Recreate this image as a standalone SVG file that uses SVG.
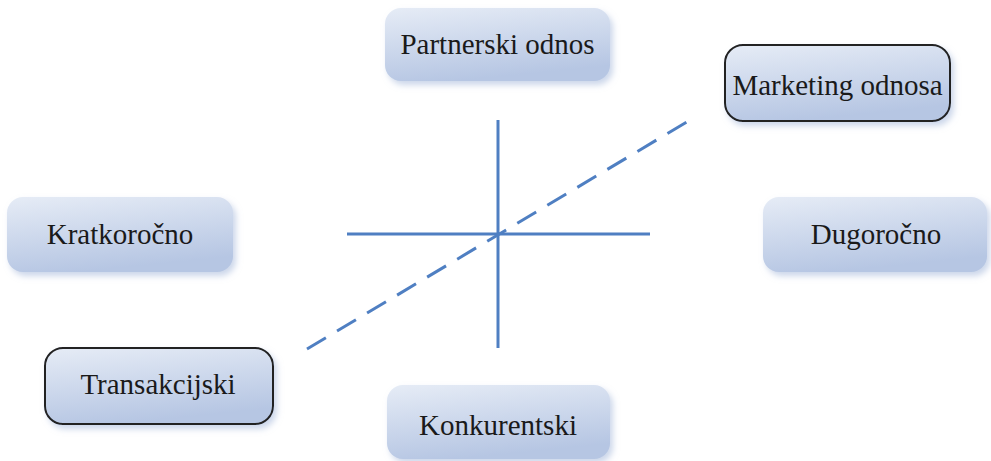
<svg xmlns="http://www.w3.org/2000/svg" width="991" height="461" viewBox="0 0 991 461">
<defs>
<linearGradient id="g" x1="0" y1="0" x2="0.3" y2="1">
<stop offset="0" stop-color="#e6ecf6"/>
<stop offset="1" stop-color="#b6c6e3"/>
</linearGradient>
<filter id="sh" x="-10%" y="-20%" width="125%" height="150%">
<feGaussianBlur in="SourceAlpha" stdDeviation="3"/>
<feOffset dx="3" dy="4" result="b"/>
<feFlood flood-color="#a9bbdc" flood-opacity="0.6"/>
<feComposite in2="b" operator="in"/>
<feMerge><feMergeNode/><feMergeNode in="SourceGraphic"/></feMerge>
</filter>
</defs>
<style>
.box{fill:url(#g);filter:url(#sh)}
.out{stroke:#222;stroke-width:2}
.t{font-family:"Liberation Serif","Times New Roman",serif;font-size:29px;fill:#1a1a1a;text-anchor:middle}
.ax{stroke:#4f7fc2;stroke-width:3;fill:none}
.dash{stroke-dasharray:22 13}
</style>
<rect width="991" height="461" fill="#fff"/>
<g id="connectors">
<line class="ax" x1="498" y1="120" x2="498" y2="348"/>
<line class="ax" x1="347" y1="234" x2="650" y2="234"/>
<line class="ax dash" x1="307" y1="349" x2="690" y2="120"/>
</g>
<g id="partnerski">
<rect class="box" x="385" y="8" width="225" height="73" rx="16"/>
<text class="t" x="497.5" y="54">Partnerski odnos</text>
</g>
<g id="marketing">
<rect class="box out" x="725" y="45" width="225" height="76" rx="18"/>
<text class="t" x="837.5" y="95">Marketing odnosa</text>
</g>
<g id="kratkorocno">
<rect class="box" x="7" y="197" width="226" height="75" rx="16"/>
<text class="t" x="120" y="244">Kratkoročno</text>
</g>
<g id="dugorocno">
<rect class="box" x="763" y="197" width="224" height="75" rx="16"/>
<text class="t" x="876" y="244">Dugoročno</text>
</g>
<g id="transakcijski">
<rect class="box out" x="45" y="348" width="228" height="76" rx="18"/>
<text class="t" x="158" y="394">Transakcijski</text>
</g>
<g id="konkurentski">
<rect class="box" x="387" y="385" width="223" height="74" rx="16"/>
<text class="t" x="498" y="435">Konkurentski</text>
</g>
</svg>
